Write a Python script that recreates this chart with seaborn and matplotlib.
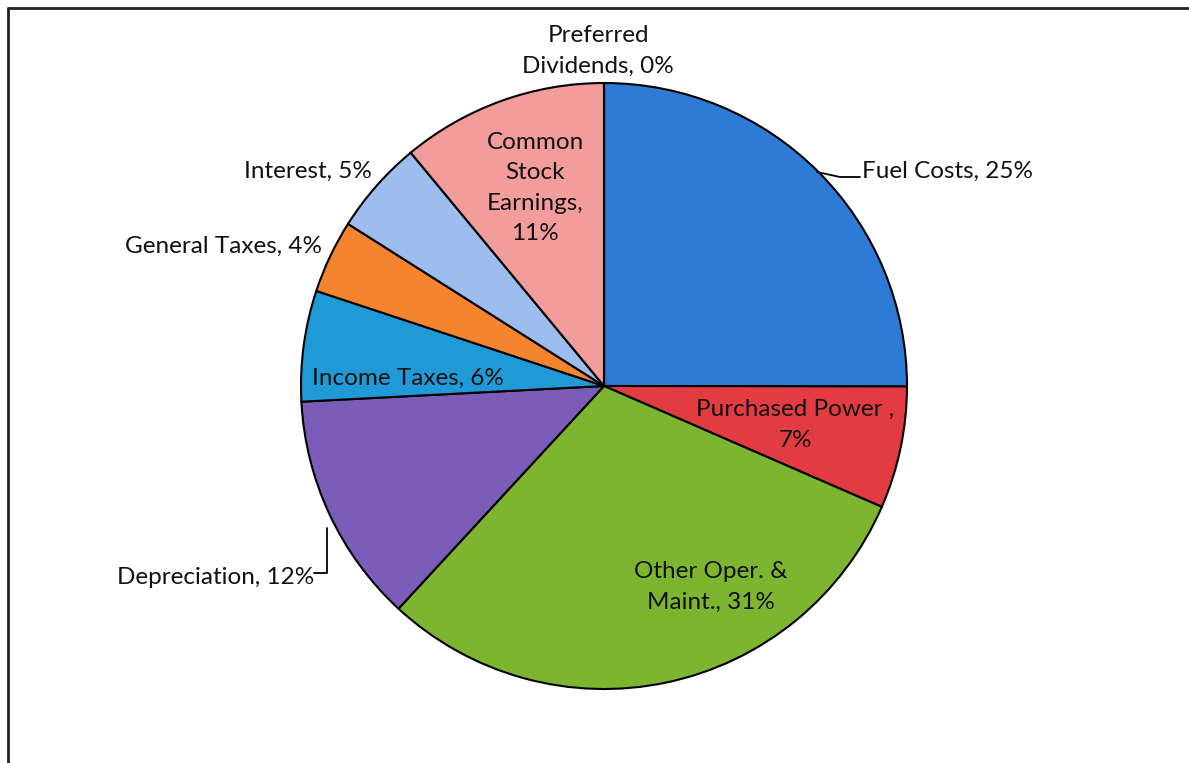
import matplotlib.pyplot as plt
import seaborn as sns

# slice shares (clockwise from 12 o'clock)
categories = ["Fuel Costs", "Purchased Power ", "Other Oper. & Maint.", "Depreciation",
              "Income Taxes", "General Taxes", "Interest", "Common Stock Earnings",
              "Preferred Dividends"]
shares = [25.0, 6.5, 30.3, 12.3, 5.9, 3.9, 5.0, 11.0, 0.0]
pct_labels = ["25%", "7%", "31%", "12%", "6%", "4%", "5%", "11%", "0%"]
colors = ["#2E7BD6", "#E33B42", "#7DB530", "#7B5CB8", "#1F9AD6",
          "#F5842E", "#9DBDEE", "#F29C9B", "#C0504D"]

sns.set_theme(style="white")
plt.rcParams["font.family"] = ["Lato", "DejaVu Sans"]

W, H = 1189, 763
fig = plt.figure(figsize=(W / 100, H / 100), dpi=100)
ax = fig.add_axes([0, 0, 1, 1])
ax.axis("off")

cx, cy, r = 604, H - 386, 303
ax.pie(shares, colors=colors, startangle=90, counterclock=False,
       center=(cx, cy), radius=r,
       wedgeprops=dict(edgecolor="black", linewidth=1.5))
ax.set_xlim(0, W)
ax.set_ylim(0, H)

# label text layout (pixel positions, y measured from top)
label_pos = {
    "Fuel Costs": (862, 171, "left", "Fuel Costs, 25%"),
    "Purchased Power ": (795, 425, "center", "Purchased Power ,\n7%"),
    "Other Oper. & Maint.": (711, 587, "center", "Other Oper. &\nMaint., 31%"),
    "Depreciation": (314, 578, "right", "Depreciation, 12%"),
    "Income Taxes": (408, 378, "center", "Income Taxes, 6%"),
    "General Taxes": (322, 246, "right", "General Taxes, 4%"),
    "Interest": (372, 171, "right", "Interest, 5%"),
    "Common Stock Earnings": (535, 188, "center", "Common\nStock\nEarnings,\n11%"),
    "Preferred Dividends": (598, 51, "center", "Preferred\nDividends, 0%"),
}
for cat, pct in zip(categories, pct_labels):
    x, y, ha, txt = label_pos[cat]
    ax.text(x, H - y, txt, ha=ha, va="center", fontsize=17.5, color="#111111",
            linespacing=1.55, multialignment="center")

# leader lines
ax.plot([817, 840, 860], [H - 172, H - 177, H - 177], color="black", lw=1.3)
ax.plot([314, 327, 327], [H - 573, H - 573, H - 528], color="black", lw=1.3)

# frame (top and left edges visible in the scan)
ax.plot([8, W], [H - 8, H - 8], color="#222222", lw=2)
ax.plot([8, 8], [H - 8, 0], color="#222222", lw=2)

fig.savefig("out.png", dpi=100)
